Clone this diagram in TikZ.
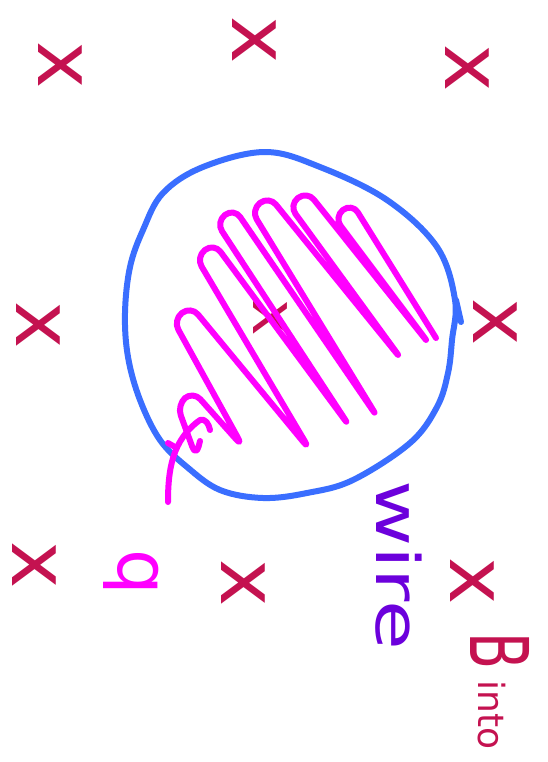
\documentclass[tikz,border=0pt]{standalone}
\usepackage{fontspec}
\usepackage{graphicx}
\setmainfont{DejaVu Sans}
\definecolor{xred}{RGB}{196,18,80}
\definecolor{mag}{RGB}{255,0,255}
\definecolor{ringblue}{RGB}{58,110,255}
\definecolor{wirepurple}{RGB}{108,0,220}
\begin{document}
\begin{tikzpicture}[x=1pt,y=-1pt,
  fieldx/.style={text=xred, font=\fontsize{80}{80}\selectfont, rotate=-90, inner sep=0pt},
  stroke/.style={line width=6pt, line cap=round, line join=round}]
\useasboundingbox (0,0) rectangle (547,762);
\fill[white] (0,0) rectangle (547,762);

% field crosses (B into page)
\node[fieldx] (x1) at (60,65) {x};
\node[fieldx] (x2) at (254,40) {x};
\node[fieldx] (x3) at (467,68) {x};
\node[fieldx] (x4) at (38,325) {x};
\node[fieldx] (x5) at (495,322) {x};
\node[fieldx, font=\fontsize{62}{62}\selectfont] (x6) at (270,318) {x};
\node[fieldx] (x7) at (34,565) {x};
\node[fieldx] (x8) at (243,583) {x};
\node[fieldx] (x9) at (472,581) {x};

% blue loop
\draw[stroke, ringblue] plot[smooth cycle, tension=0.6] coordinates {
  (265,152) (320,167) (387,200) (437,247) (455,300) (452,340)
  (448,373) (437,407) (410,443) (353,480) (307,493) (263,498) (220,490)
  (187,467) (160,440) (140,400) (128,357) (125,313) (130,267) (143,230)
  (163,193) (203,167)};
\draw[stroke, ringblue] (461,322) -- (456,300);

% magenta coil
\draw[stroke, mag, rounded corners=11pt]
  (200,441) -- (196,457) -- (177,405) -- (193,391) -- (243,447)
  -- (173,320) -- (191,306) -- (310,450)
  -- (196,257) -- (214,243) -- (350,427)
  -- (216,222) -- (234,208) -- (378,418)
  -- (251,210) -- (269,196) -- (402,360)
  -- (289,205) -- (307,191) -- (430,345)
  -- (334,217) -- (352,203) -- (436,338);
\draw[stroke, mag] (168,502) .. controls (168,470) and (172,440) .. (200,420)
  .. controls (205,418) and (209,424) .. (210,430);
\draw[stroke, mag] (168,443) -- (175,447);

% labels
\node[text=mag, font=\fontsize{72}{72}\selectfont, rotate=-90, inner sep=0pt] (q) at (131,572) {q};
\node[text=wirepurple, font=\fontsize{60}{60}\selectfont, rotate=-90, anchor=base west, inner sep=0pt] (wire) at (376,480) {\scalebox{1.35}[1]{wire}};
\node[text=xred, font=\fontsize{36}{36}\selectfont, rotate=-90, anchor=base west, inner sep=0pt] (binto) at (470,632) {\scalebox{0.9}[1.35]{\fontsize{60}{60}\selectfont B} \raisebox{8pt}{into}};
\end{tikzpicture}
\end{document}
